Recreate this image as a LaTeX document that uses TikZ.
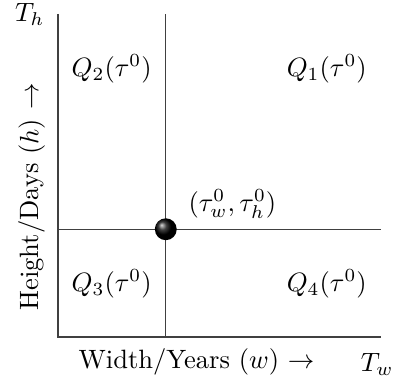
\documentclass[tikz,border=0pt]{standalone}
\usepackage{amsmath}
\usepackage{amssymb}
\usetikzlibrary{positioning, calc}

\begin{document}
\begin{tikzpicture}[
    ax/.style={line width=0.5pt, draw=black!75},
    ql/.style={inner sep=1pt},
    pt/.style={circle, ball color=black, minimum size=0.29cm, inner sep=0pt}
]
\useasboundingbox (-0.77,-0.583) rectangle (4.65,4.465);
% axes
\coordinate (o)  at (0,0);
\coordinate (xe) at (4.28,0);
\coordinate (ye) at (0,4.28);
\draw[ax] (ye) -- (o) -- (xe);
% split point
\coordinate (c) at (1.427,1.427);
\coordinate (ct) at (1.427,4.28);
\coordinate (cb) at (1.427,0);
\coordinate (cl) at (0,1.427);
\coordinate (cr) at (4.28,1.427);
\draw[ax] (cb) -- (ct);
\draw[ax] (cl) -- (cr);
\node[pt] (tau) at (c) {};
\node[ql] (taul) at (2.31,1.76) {$(\tau_w^0,\tau_h^0)$};
% quadrants
\node[ql] (q1) at (3.56,3.55) {$Q_1(\tau^0)$};
\node[ql] (q2) at (0.71,3.55) {$Q_2(\tau^0)$};
\node[ql] (q3) at (0.71,0.70) {$Q_3(\tau^0)$};
\node[ql] (q4) at (3.56,0.70) {$Q_4(\tau^0)$};
% axis labels
\node[ql] (th) at (-0.375,4.27) {$T_h$};
\node[ql] (tw) at (4.23,-0.37) {$T_w$};
\node[ql] (xl) at (1.835,-0.33) {Width/Years $(w)$ $\rightarrow$};
\node[ql, rotate=90] (yl) at (-0.35,1.855) {Height/Days $(h)$ $\rightarrow$};
\end{tikzpicture}
\end{document}
